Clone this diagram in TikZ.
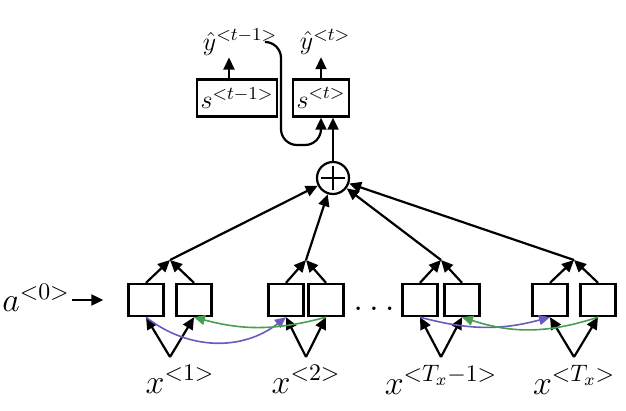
\RequirePackage{fix-cm}
\documentclass[tikz,border=0pt]{standalone}
\usetikzlibrary{arrows.meta, positioning}
\definecolor{attpurple}{RGB}{106, 90, 190}
\definecolor{attgreen}{RGB}{70, 160, 80}
\tikzset{
  hbox/.style={
    rectangle, draw, line width=1.2pt,
    minimum width=17.5pt, minimum height=16pt, inner sep=0pt
  },
  sbox/.style={
    rectangle, draw, line width=1.2pt,
    minimum height=18.5pt, inner sep=0pt,
    font=\fontsize{13}{15}\selectfont
  },
  lbl/.style={inner sep=1pt, font=\fontsize{17}{20}\selectfont},
  ylbl/.style={inner sep=1pt, font=\fontsize{13}{15}\selectfont},
  arr/.style={-{Triangle[length=6pt,width=5.5pt]}, line width=1.1pt},
  parr/.style={-{Triangle[length=5.5pt,width=5pt]}, line width=0.8pt, color=attpurple},
  garr/.style={-{Triangle[length=5.5pt,width=5pt]}, line width=0.8pt, color=attgreen},
}

\begin{document}
\begin{tikzpicture}[x=0.5pt, y=-0.5pt]
    \useasboundingbox (0,0) rectangle (626,411);

    % bidirectional encoder boxes
    \foreach \n/\lx/\rx in {1/146/194, 2/286/326, 3/420/462, 4/550/598}{
      \node[hbox] (l\n) at (\lx,300) {};
      \node[hbox] (r\n) at (\rx,300) {};
      \coordinate (m\n) at ({(\lx+\rx)/2},260);
      \coordinate (x\n) at ({(\lx+\rx)/2},357);
    }
    \node[lbl, below=3pt of x1, xshift=5pt] (in1) {$x^{<1>}$};
    \node[lbl, below=3pt of x2] (in2) {$x^{<2>}$};
    \node[lbl, below=3pt of x3] (in3) {$x^{<T_x-1>}$};
    \node[lbl, below=3pt of x4] (in4) {$x^{<T_x>}$};
    \node[font=\fontsize{18}{20}\selectfont] (dots) at (374,309) {$\dots$};

    \node[lbl] (a0) at (36,298) {$a^{<0>}$};
    \draw[arr] (a0.east |- l1.west) -- ([xshift=-12pt]l1.west);

    % attention sum and decoder
    \node[circle, draw, line width=1.1pt, minimum size=16pt, inner sep=0pt] (plus) at (333,178) {};
    \draw[line width=1.1pt] ([xshift=-6pt]plus.center) -- ([xshift=6pt]plus.center);
    \draw[line width=1.1pt] ([yshift=-6pt]plus.center) -- ([yshift=6pt]plus.center);

    \node[sbox, minimum width=40pt] (sp) at (237,98) {$s^{<t-1>}$};
    \node[sbox, minimum width=28pt] (st) at (321,98) {$s^{<t>}$};
    \node[ylbl] (yp) at (240,42) {$\hat{y}^{<t-1>}$};
    \node[ylbl] (yt) at (325,42) {$\hat{y}^{<t>}$};

    \foreach \n in {1,...,4}{
      \draw[arr] (x\n) -- (l\n.south);
      \draw[arr] (x\n) -- (r\n.south);
      \draw[arr] (l\n.north) -- (m\n);
      \draw[arr] (r\n.north) -- (m\n);
      \draw[arr] (m\n) -- (plus);
    }

    \draw[arr] ([xshift=-4pt]sp.north) -- ([xshift=-4pt]sp.north |- yp.south);
    \draw[arr] (st.north) -- (st.north |- yt.south);
    \draw[arr] (plus.north) -- (plus.north |- st.south);
    \coordinate (loop) at (281,145);
    \draw[arr, rounded corners=8pt] ([xshift=-7pt]yp.east) -| (loop) -| (st.south);

    % forward and backward links
    \draw[parr] (l1.south) to[bend right=38] (l2.south);
    \draw[garr] (r2.south) to[bend left=15] (r1.south);
    \draw[parr] (l3.south) to[bend right=15] (l4.south);
    \draw[garr] (r4.south) to[bend left=18] (r3.south);
  \end{tikzpicture}
\end{document}
